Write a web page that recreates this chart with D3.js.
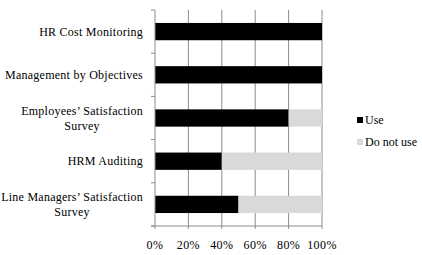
<!DOCTYPE html>
<html>
<head>
<meta charset="utf-8">
<title>HR practices</title>
<script src="https://d3js.org/d3.v7.min.js"></script>
<style>
  body { margin: 0; background: #fff; }
</style>
</head>
<body>
<script>
// data
var categories = ["HR Cost Monitoring", "Management by Objectives", "Employees\u2019 Satisfaction Survey", "HRM Auditing", "Line Managers\u2019 Satisfaction Survey"];
var useValues = [1.0, 1.0, 0.8, 0.4, 0.5];
var notUseValues = [0.0, 0.0, 0.2, 0.6, 0.5];
var seriesNames = ["Use", "Do not use"];
var tickValues = [0, 0.2, 0.4, 0.6, 0.8, 1.0];
var colors = ["#000000", "#d9d9d9"];

var width = 422, height = 255;
var margin = {top: 10, left: 155, right: 100, bottom: 29};
var FONT = "'Liberation Serif'";

var svg = d3.select("body").append("svg")
    .attr("width", width)
    .attr("height", height);

var x = d3.scaleLinear().domain([0, 1]).range([margin.left, width - margin.right]);
var y = d3.scaleBand().domain(categories).range([margin.top, height - margin.bottom]).paddingInner(0.6).paddingOuter(0.3);

// gridlines
svg.append("g").selectAll("line")
    .data(tickValues.slice(1))
    .enter().append("line")
    .attr("x1", function(d) { return x(d); })
    .attr("x2", function(d) { return x(d); })
    .attr("y1", margin.top)
    .attr("y2", height - margin.bottom)
    .attr("stroke", "#8c8c8c")
    .attr("stroke-width", 1);

// stacked bars
var rows = categories.map(function(c, i) { return {cat: c, vals: [useValues[i], notUseValues[i]]}; });
rows.forEach(function(r) {
    var start = 0;
    r.vals.forEach(function(v, k) {
        svg.append("rect")
            .attr("x", x(start))
            .attr("y", y(r.cat))
            .attr("width", x(start + v) - x(start))
            .attr("height", y.bandwidth())
            .attr("fill", colors[k]);
        start += v;
    });
});

// y axis
var yBoundaries = d3.range(categories.length + 1).map(function(i) {
    return margin.top + i * (height - margin.bottom - margin.top) / categories.length;
});
svg.append("line")
    .attr("x1", x(0)).attr("x2", x(0))
    .attr("y1", margin.top).attr("y2", height - margin.bottom)
    .attr("stroke", "#8c8c8c");
svg.append("g").selectAll("line")
    .data(yBoundaries)
    .enter().append("line")
    .attr("x1", x(0) - 4).attr("x2", x(0))
    .attr("y1", function(d) { return d; }).attr("y2", function(d) { return d; })
    .attr("stroke", "#8c8c8c");

// x axis
svg.append("line")
    .attr("x1", x(0) - 4).attr("x2", x(1))
    .attr("y1", height - margin.bottom).attr("y2", height - margin.bottom)
    .attr("stroke", "#8c8c8c");
svg.append("g").selectAll("line")
    .data(tickValues)
    .enter().append("line")
    .attr("x1", function(d) { return x(d); }).attr("x2", function(d) { return x(d); })
    .attr("y1", height - margin.bottom).attr("y2", height - margin.bottom + 3)
    .attr("stroke", "#8c8c8c");
svg.append("g").selectAll("text")
    .data(tickValues)
    .enter().append("text")
    .attr("x", function(d) { return x(d); })
    .attr("y", height - margin.bottom + 23)
    .attr("text-anchor", "middle")
    .style("font-family", FONT)
    .style("font-size", "12px")
    .style("letter-spacing", "0.4px")
    .text(d3.format(".0%"));

// category labels (wrap long ones)
var wrapped = {
    "Employees\u2019 Satisfaction Survey": ["Employees\u2019 Satisfaction", "Survey"],
    "Line Managers\u2019 Satisfaction Survey": ["Line Managers\u2019 Satisfaction", "Survey"]
};
categories.forEach(function(c) {
    var lines = wrapped[c] || [c];
    var cy = y(c) + y.bandwidth() / 2;
    var t = svg.append("text")
        .attr("text-anchor", "middle")
        .attr("x", 0)
        .attr("y", cy - (lines.length - 1) * 7.5 + 4)
        .style("font-family", FONT)
        .style("font-size", "12px")
        .style("letter-spacing", "0.25px");
    lines.forEach(function(l, i) {
        t.append("tspan")
            .attr("x", 0)
            .attr("dy", i === 0 ? 0 : 15)
            .text(l);
    });
    // right-align the block as a whole, centre lines inside it
    var w = t.node().getBBox().width;
    t.attr("transform", "translate(" + Math.max(x(0) - 12 - w / 2, w / 2 + 1) + ",0)");
});

// legend
var legend = svg.append("g").selectAll("g")
    .data(seriesNames)
    .enter().append("g")
    .attr("transform", function(d, i) { return "translate(" + 357 + "," + (117 + i * 22) + ")"; });
legend.append("rect")
    .attr("width", 6).attr("height", 6)
    .attr("fill", function(d, i) { return colors[i]; });
legend.append("text")
    .attr("x", 8).attr("y", 7)
    .style("font-family", FONT)
    .style("font-size", "12px")
    .text(function(d) { return d; });
</script>
</body>
</html>
